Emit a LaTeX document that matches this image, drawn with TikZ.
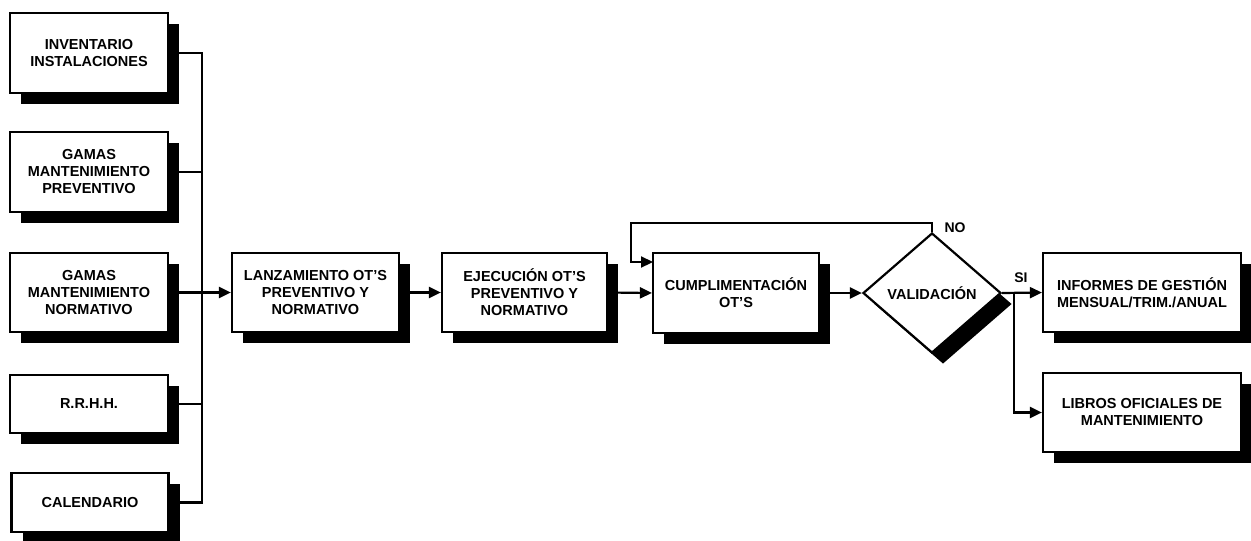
\documentclass[tikz,border=0pt]{standalone}
\usepackage{fontspec}
\setmainfont{Liberation Sans}
\usetikzlibrary{arrows.meta,shapes.geometric,shadows}
\begin{document}
\begin{tikzpicture}[x=1pt,y=-1pt,
  shad/.style={drop shadow={shadow xshift=11pt,shadow yshift=-11pt,opacity=1,fill=black}},
  box/.style={draw=black,line width=2.2pt,fill=white,shad,align=center,inner sep=2pt,
    font=\fontsize{14.5}{17}\selectfont\bfseries},
  dec/.style={diamond,draw=black,line width=2.2pt,fill=white,shad,inner sep=0pt,
    minimum width=138pt,minimum height=120pt,font=\fontsize{14.5}{17}\selectfont\bfseries},
  conn/.style={line width=2.2pt,draw=black},
  arr/.style={conn,-{Triangle[length=12pt,width=11pt]}},
  lbl/.style={font=\fontsize{14}{16}\selectfont\bfseries,inner sep=0pt}]
\useasboundingbox (0,0) rectangle (1251,541);
\node[box,minimum width=158pt,minimum height=80pt] (inv) at (89,53) {INVENTARIO\\INSTALACIONES};
\node[box,minimum width=158pt,minimum height=80pt] (prev) at (89,172) {GAMAS\\MANTENIMIENTO\\PREVENTIVO};
\node[box,minimum width=158pt,minimum height=79pt] (norm) at (89,292.5) {GAMAS\\MANTENIMIENTO\\NORMATIVO};
\node[box,minimum width=158pt,minimum height=58pt] (rrhh) at (89,404) {R.R.H.H.};
\node[box,minimum width=157pt,minimum height=59pt] (cal) at (90,502.5) {CALENDARIO};
\node[box,minimum width=167pt,minimum height=79pt] (lanz) at (315.5,292.5) {LANZAMIENTO OT'S\\PREVENTIVO Y\\NORMATIVO};
\node[box,minimum width=165pt,minimum height=79pt] (ejec) at (524.5,292.5) {EJECUCIÓN OT'S\\PREVENTIVO Y\\NORMATIVO};
\node[box,minimum width=166pt,minimum height=80pt] (cump) at (736,293) {CUMPLIMENTACIÓN\\OT'S};
\node[dec] (val) at (932,293) {VALIDACIÓN};
\node[box,minimum width=198pt,minimum height=79pt] (inf) at (1142,292.5) {INFORMES DE GESTIÓN\\MENSUAL/TRIM./ANUAL};
\node[box,minimum width=198pt,minimum height=79pt] (lib) at (1142,412.5) {LIBROS OFICIALES DE\\MANTENIMIENTO};
\coordinate (bx) at (202,0);
\coordinate (lp) at (631,223);
\coordinate (lpin) at (653,262);
\coordinate (br) at (1014,293);
\draw[conn] (inv.east) -- (inv.east -| bx) |- (cal.east);
\draw[conn] (prev.east) -- (prev.east -| bx);
\draw[conn] (rrhh.east) -- (rrhh.east -| bx);
\draw[arr] (norm.east) -- (lanz.west);
\draw[arr] (lanz.east) -- (ejec.west);
\draw[arr] (ejec.east) -- (cump.west);
\draw[arr] (cump.east) -- (val.west);
\draw[arr] (val.north) |- (lp) |- (lpin);
\draw[arr] (val.east) -- (inf.west);
\draw[arr] (br) |- (lib.west);
\node[lbl] (no) at (955,228) {NO};
\node[lbl] (si) at (1021,278) {SI};
\end{tikzpicture}
\end{document}
